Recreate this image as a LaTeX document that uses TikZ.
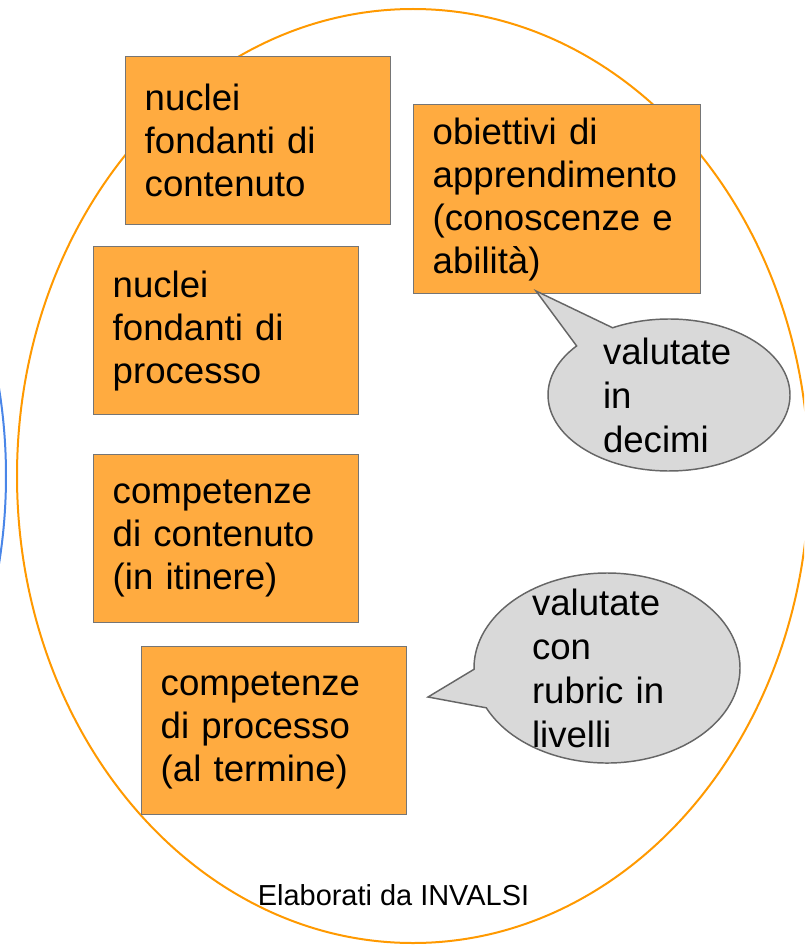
\documentclass[tikz,border=0pt]{standalone}
\usepackage{fontspec}
\setmainfont{Liberation Sans}
\usepackage{tikz}
\usetikzlibrary{shapes.callouts}

\definecolor{boxfill}{HTML}{FFAB40}
\definecolor{boxline}{HTML}{757575}
\definecolor{ringorange}{HTML}{FF9900}
\definecolor{ringblue}{HTML}{4A86E8}
\definecolor{notefill}{HTML}{D9D9D9}
\definecolor{noteline}{HTML}{666666}

\begin{document}
\begin{tikzpicture}[x=0.75pt, y=-0.75pt,
    box/.style={draw=boxline, line width=1.1pt, fill=boxfill, anchor=north west,
      align=left, inner xsep=14.25pt, inner ysep=0pt,
      minimum width=198.75pt, minimum height=126pt, text width=170.25pt,
      font=\fontsize{27.45pt}{32.25pt}\selectfont},
    note/.style={ellipse callout, draw=noteline, line width=1.1pt, fill=notefill,
      align=left, inner xsep=0pt, inner ysep=-20pt,
      font=\fontsize{27.45pt}{33pt}\selectfont}]

        %Frame
        \useasboundingbox (0,0) rectangle (804,945);
        \clip (0,0) rectangle (804,945);
        %Rings
        \draw [ringblue, line width=1.5pt] (-390,476) ellipse [x radius=297pt, y radius=350.25pt];
        \draw [ringorange, line width=1.5pt] (413,476) ellipse [x radius=297pt, y radius=350.25pt];
        %Boxes
        \node [box] (b1) at (125,56) {nuclei\\fondanti di\\contenuto};
        \node [box, minimum width=215.25pt, text width=186.75pt, minimum height=141.75pt]
          (b2) at (413,104) {obiettivi di\\apprendimento\\(conoscenze e\\abilità)};
        \node [box] (b3) at (93,246) {nuclei\\fondanti di\\processo};
        \node [box] (b4) at (93,454) {competenze\\di contenuto\\(in itinere)};
        \node [box] (b5) at (141,646) {competenze\\di processo\\(al termine)};
        %Notes
        \coordinate (tip1) at (536,291);
        \coordinate (tip2) at (428,697);
        \node [note, text width=99pt, minimum width=181.5pt, minimum height=114pt,
          callout absolute pointer={(tip1)}, callout pointer arc=22]
          (n1) at (669,395) {valutate\\in\\decimi};
        \node [note, text width=112.5pt, minimum width=199.5pt, minimum height=142.5pt,
          callout absolute pointer={(tip2)}, callout pointer arc=24]
          (n2) at (607,668) {valutate\\con\\rubric in\\livelli};
        %Source
        \node [anchor=base, font=\fontsize{21.7pt}{26pt}\selectfont]
          (src) at (393.5,905) {Elaborati da INVALSI};
\end{tikzpicture}
\end{document}
